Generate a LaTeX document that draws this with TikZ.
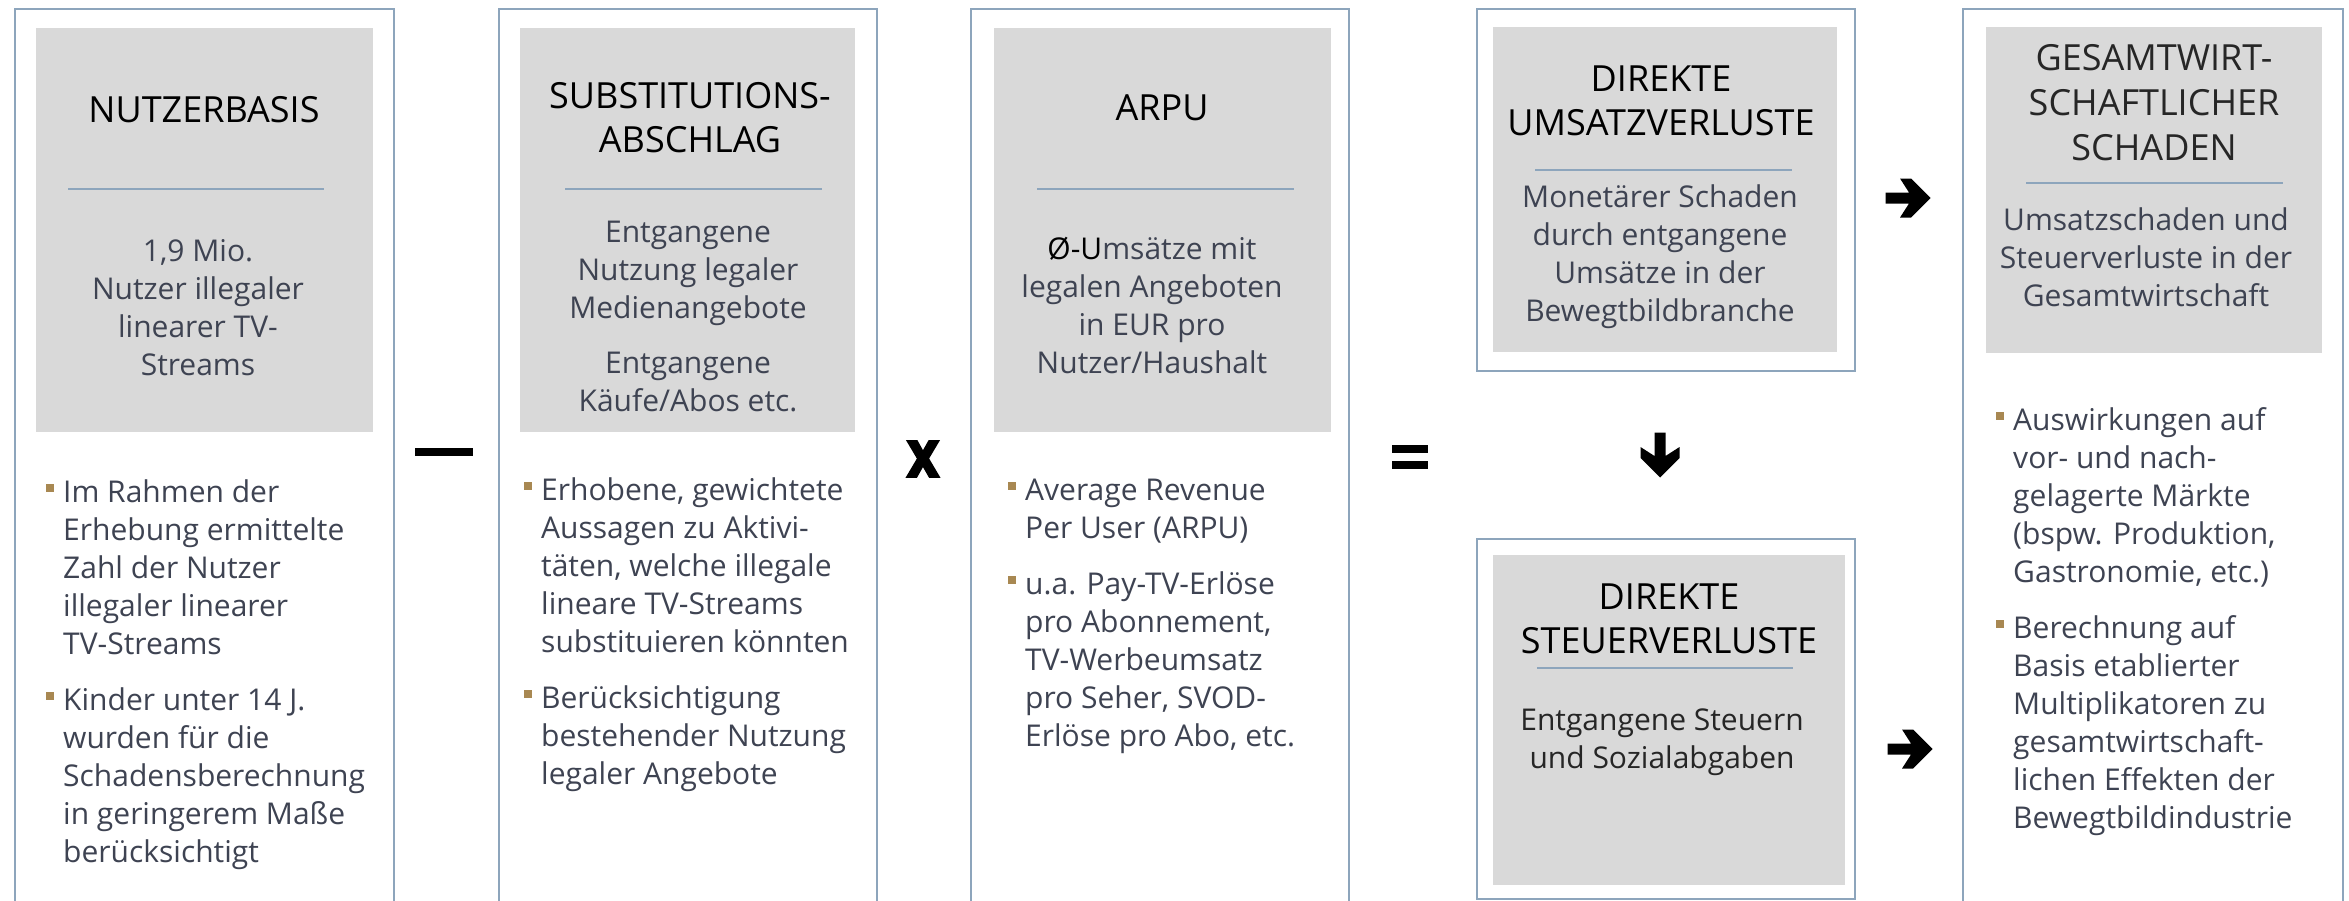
\documentclass[tikz,border=0pt]{standalone}
\usepackage{fontspec}
\setmainfont{Open Sans}
\newfontfamily\zeichenfont[BoldFeatures={FakeBold=2.5}]{DejaVu Sans}
\usetikzlibrary{calc}

\definecolor{rahmenblau}{RGB}{141,165,188}
\definecolor{kastengrau}{RGB}{217,217,217}
\definecolor{textgrau}{RGB}{62,67,82}
\definecolor{punktgold}{RGB}{168,136,82}

\newcommand{\punkt}{\leavevmode\rule{0pt}{23pt}\llap{\textcolor{punktgold}{\rule[10pt]{8pt}{8pt}}\hspace{9pt}}}

\begin{document}
\begin{tikzpicture}[
    x=1pt, y=-1pt,
    rahmen/.style={draw=rahmenblau, line width=2pt, anchor=north west, inner sep=0pt},
    kasten/.style={fill=kastengrau, anchor=north west, inner sep=0pt},
    titel/.style={align=center, inner sep=0pt, font=\fontsize{36}{44}\selectfont, text=black},
    inhalt/.style={align=center, inner sep=0pt, font=\fontsize{30}{38}\selectfont, text=textgrau},
    liste/.style={align=left, anchor=north west, inner sep=0pt, font=\fontsize{30}{38}\selectfont, text=textgrau},
    trenner/.style={draw=rahmenblau, line width=2pt},
    balken/.style={fill=black, inner sep=0pt, minimum height=8pt},
    blockpfeil/.pic={
      \fill[black] (-22.5,-5.5) -- (1,-5.5) -- (-8,-19.5) -- (3,-19.5) -- (22.5,0)
        -- (3,19.5) -- (-8,19.5) -- (1,5.5) -- (-22.5,5.5) -- cycle;
    }
  ]
  \useasboundingbox (0,0) rectangle (2349,900);
  \fill[white] (0,0) rectangle (2349,900);
  \clip (0,0) rectangle (2349,900);

  % Rahmen
  \node[rahmen, minimum width=379pt, minimum height=930pt] (nutzer) at (14,8) {};
  \node[rahmen, minimum width=378pt, minimum height=930pt] (subst) at (498,8) {};
  \node[rahmen, minimum width=378pt, minimum height=930pt] (arpu) at (970,8) {};
  \node[rahmen, minimum width=378pt, minimum height=362pt] (umsatz) at (1476,8) {};
  \node[rahmen, minimum width=378pt, minimum height=360pt] (steuer) at (1476,538) {};
  \node[rahmen, minimum width=380pt, minimum height=930pt] (gesamt) at (1962,8) {};

  % graue Kaesten
  \node[kasten, minimum width=337pt, minimum height=404pt] (nutzerkasten) at (36,28) {};
  \node[kasten, minimum width=335pt, minimum height=404pt] (substkasten) at (520,28) {};
  \node[kasten, minimum width=337pt, minimum height=404pt] (arpukasten) at (994,28) {};
  \node[kasten, minimum width=344pt, minimum height=325pt] (umsatzkasten) at (1493,27) {};
  \node[kasten, minimum width=352pt, minimum height=330pt] (steuerkasten) at (1493,555) {};
  \node[kasten, minimum width=336pt, minimum height=326pt] (gesamtkasten) at (1986,27) {};

  % Nutzerbasis
  \node[titel] (nutzertitel) at (204,110) {NUTZERBASIS};
  \draw[trenner] (68,189) -- (324,189);
  \node[inhalt] (nutzertext) at (198,308) {1,9 Mio.\\Nutzer illegaler\\linearer TV-\\Streams};
  \node[liste] (nutzerliste) at (63,479) {\punkt Im Rahmen der\\Erhebung ermittelte\\Zahl der Nutzer\\illegaler linearer\\TV-Streams\\[18pt]
    \punkt Kinder unter 14 J.\\wurden für die\\Schadensberechnung\\in geringerem Maße\\berücksichtigt};

  % Substitutionsabschlag
  \node[titel] (substtitel) at (690,118) {SUBSTITUTIONS-\\ABSCHLAG};
  \draw[trenner] (565,189) -- (822,189);
  \node[inhalt] (substtext) at (688,316) {Entgangene\\Nutzung legaler\\Medienangebote\\[17pt]Entgangene\\Käufe/Abos etc.};
  \node[liste] (substliste) at (541,477) {\punkt Erhobene, gewichtete\\Aussagen zu Aktivi-\\täten, welche illegale\\lineare TV-Streams\\substituieren könnten\\[18pt]
    \punkt Berücksichtigung\\bestehender Nutzung\\legaler Angebote};

  % ARPU
  \node[titel] (arputitel) at (1162,108) {ARPU};
  \draw[trenner] (1037,189) -- (1294,189);
  \node[inhalt] (arputext) at (1152,305) {{\color{black}Ø-U}msätze mit\\legalen Angeboten\\in EUR pro\\Nutzer/Haushalt};
  \node[liste] (arpuliste) at (1025,477) {\punkt Average Revenue\\Per User (ARPU)\\[18pt]
    \punkt u.a. Pay-TV-Erlöse\\pro Abonnement,\\TV-Werbeumsatz\\pro Seher, SVOD-\\Erlöse pro Abo, etc.};

  % Direkte Umsatzverluste
  \node[titel] (umsatztitel) at (1661,101) {DIREKTE\\UMSATZVERLUSTE};
  \draw[trenner] (1535,170) -- (1792,170);
  \node[inhalt] (umsatztext) at (1660,257) {Monetärer Schaden\\durch entgangene\\Umsätze in der\\Bewegtbildbranche};

  % Direkte Steuerverluste
  \node[titel] (steuertitel) at (1669,619) {DIREKTE\\STEUERVERLUSTE};
  \draw[trenner] (1537,668) -- (1793,668);
  \node[inhalt, text=black!85] (steuertext) at (1662,742) {Entgangene Steuern\\und Sozialabgaben};

  % Gesamtwirtschaftlicher Schaden
  \node[titel, text=black!85, font=\fontsize{36}{45}\selectfont] (gesamttitel) at (2154,103) {GESAMTWIRT-\\SCHAFTLICHER\\SCHADEN};
  \draw[trenner] (2026,183) -- (2283,183);
  \node[inhalt] (gesamttext) at (2146,257) {Umsatzschaden und\\Steuerverluste in der\\Gesamtwirtschaft};
  \node[liste] (gesamtliste) at (2013,407) {\punkt Auswirkungen auf\\vor- und nach-\\gelagerte Märkte\\(bspw. Produktion,\\Gastronomie, etc.)\\[18pt]
    \punkt Berechnung auf\\Basis etablierter\\Multiplikatoren zu\\gesamtwirtschaft-\\lichen Effekten der\\Bewegtbildindustrie};

  % Rechenzeichen
  \node[balken, minimum width=58pt] (minus) at (444,452) {};
  \node[inner sep=0pt, font=\zeichenfont\bfseries\fontsize{66}{66}\selectfont] (mal) at (923,459) {\scalebox{0.8}[1]{x}};
  \node[balken, minimum width=36pt] (gleich1) at (1410,449) {};
  \node[balken, minimum width=36pt] (gleich2) at (1410,465) {};

  % Pfeile
  \pic[rotate=-90] at ($(umsatz.south)!0.5!(steuer.north)+(-6,0)$) {blockpfeil};
  \pic at (1908,198) {blockpfeil};
  \pic at (1910,749) {blockpfeil};
\end{tikzpicture}
\end{document}
